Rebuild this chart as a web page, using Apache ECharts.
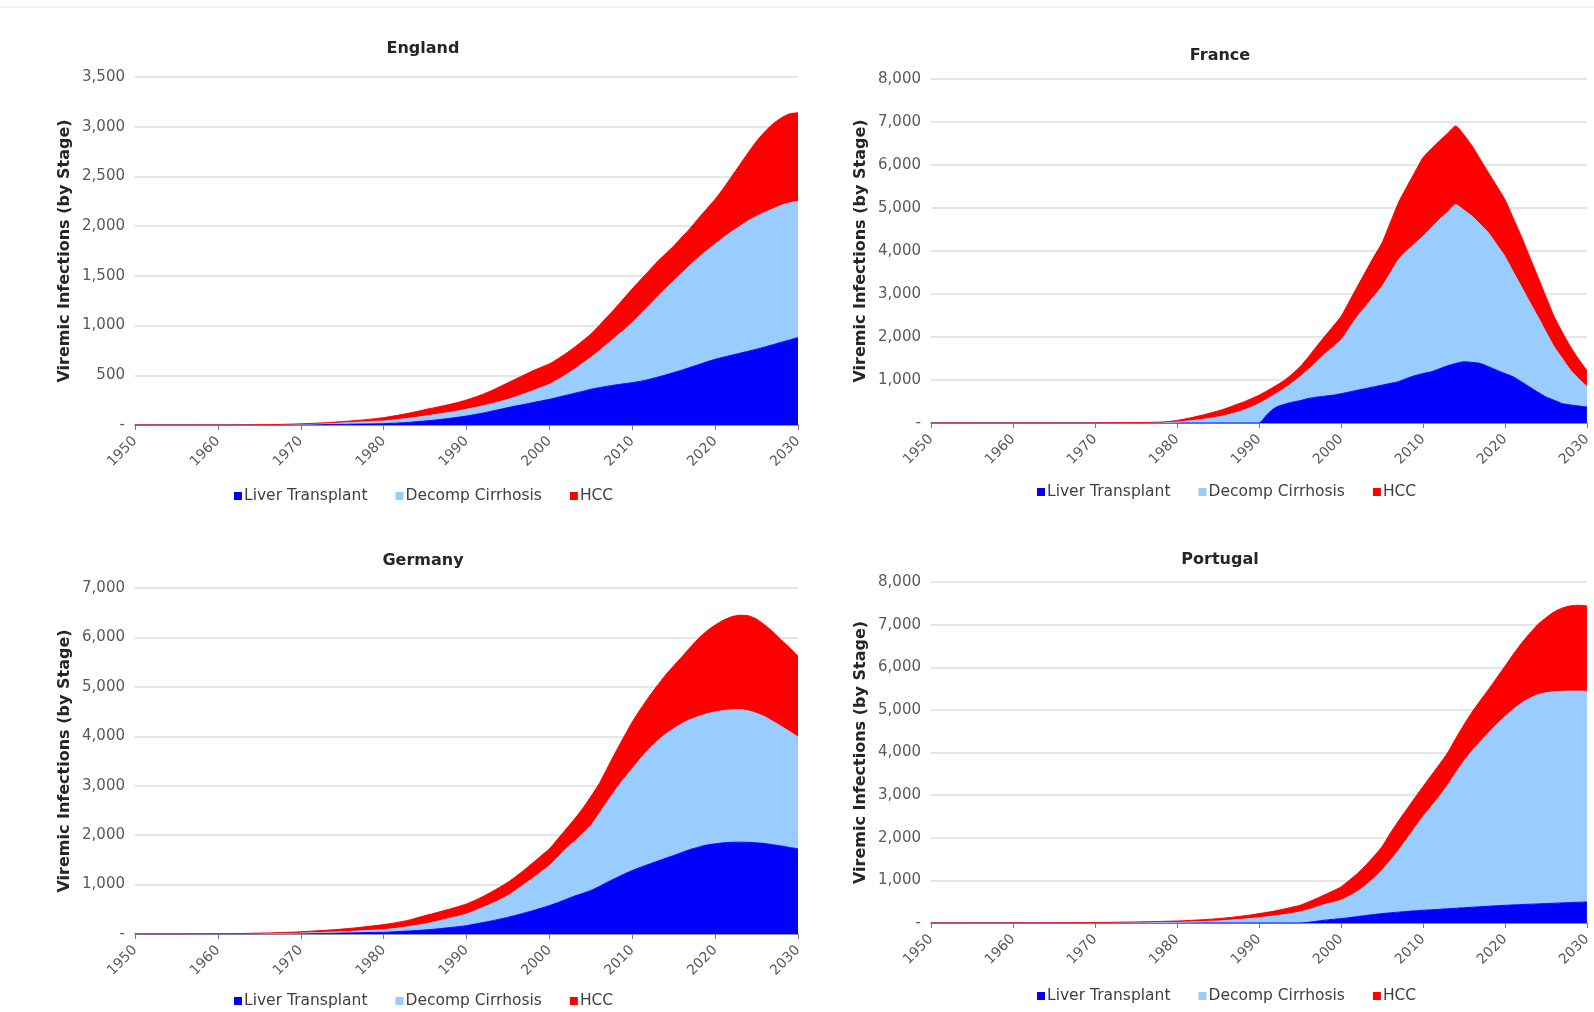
<!DOCTYPE html>
<html><head><meta charset="utf-8">
<script src="https://cdn.jsdelivr.net/npm/echarts@6/dist/echarts.min.js"></script>
<style>html,body{margin:0;padding:0;background:#fff;overflow:hidden}#c{width:1594px;height:1012px}</style>
</head><body><div id="c"></div><script>
// ---- categories / labels ----
const years = [];
for (let y = 1950; y <= 2030; y++) years.push(String(y));
const seriesNames = ['Liver Transplant', 'Decomp Cirrhosis', 'HCC'];
const panelTitles = ['England', 'France', 'Germany', 'Portugal'];
const yAxisTitle = 'Viremic Infections (by Stage)';
const yMax = [3500, 8000, 7000, 8000];
const yStep = [500, 1000, 1000, 1000];

// ---- data (1950..2030, one value per year) ----
const englandLT = [
  0,0,0,0,0,0,0,0,0,0,
  0,0,0,0,0,0,0,1,1,2,
  3,3,4,5,6,7,8,9,10,12,
  13,17,21,26,33,40,48,57,67,78,
  90,105,120,138,156,175,192,208,225,242,
  258,278,298,318,338,359,375,390,403,415,
  426,440,458,480,503,527,552,580,607,635,
  661,682,702,722,742,762,785,808,832,856,
  879];
const englandDC = [
  0,0,0,0,0,0,0,0,0,0,
  0,0,0,0,0,2,3,3,4,4,
  5,7,8,10,12,14,17,20,23,25,
  27,31,36,41,45,50,54,58,61,64,
  68,70,73,75,79,83,93,107,120,135,
  151,177,207,242,282,321,370,425,482,540,
  604,675,742,805,867,923,978,1030,1078,1120,
  1159,1203,1243,1278,1313,1338,1355,1367,1378,1379,
  1371];
const englandHCC = [
  0,0,0,0,0,0,0,0,0,0,
  0,0,1,1,1,1,1,1,2,3,
  4,5,7,8,10,13,15,18,22,27,
  34,40,45,51,57,65,70,75,80,86,
  94,105,117,132,150,167,180,190,200,203,
  206,210,215,220,225,235,255,275,295,320,
  340,345,350,355,350,350,360,370,395,420,
  450,495,555,620,685,755,810,855,880,895,
  890];

const franceLT = [
  0,0,0,0,0,0,0,0,0,0,
  0,0,0,0,0,0,0,0,0,0,
  0,0,0,0,0,0,0,0,0,0,
  0,0,0,0,0,0,0,0,0,0,
  0,200,360,430,480,520,568,600,625,646,
  680,720,762,800,840,880,920,960,1035,1100,
  1150,1190,1260,1330,1385,1424,1410,1385,1310,1229,
  1150,1074,960,840,720,607,530,451,420,395,
  375];
const franceDC = [
  0,0,0,0,0,0,0,0,0,0,
  0,0,0,0,0,0,0,0,0,0,
  1,1,2,2,3,4,5,7,9,14,
  23,40,60,80,108,140,180,230,290,365,
  451,360,310,360,445,554,672,820,975,1114,
  1249,1480,1712,1910,2100,2294,2560,2837,2965,3070,
  3191,3350,3470,3570,3695,3526,3398,3235,3109,2921,
  2724,2446,2214,1980,1754,1513,1244,1049,809,635,
  475];
const franceHCC = [
  0,0,0,0,0,0,0,0,0,0,
  0,0,0,0,0,0,0,0,0,0,
  1,2,2,3,4,5,7,9,13,21,
  37,55,75,100,120,140,160,180,190,195,
  195,190,190,190,205,233,290,354,410,480,
  545,620,700,810,920,1012,1170,1322,1480,1660,
  1829,1830,1828,1840,1828,1750,1634,1510,1400,1360,
  1323,1250,1167,1050,934,820,700,610,545,450,
  370];

const germanyLT = [
  0,0,0,0,0,0,0,0,0,0,
  1,1,1,2,2,3,4,5,6,7,
  8,10,12,14,17,20,23,26,29,31,
  34,42,51,60,70,81,96,112,130,148,
  169,200,232,265,300,338,380,425,472,522,
  574,635,700,765,820,880,960,1047,1130,1210,
  1284,1350,1410,1470,1530,1588,1650,1710,1757,1800,
  1824,1845,1855,1858,1855,1845,1830,1804,1780,1750,
  1723];
const germanyDC = [
  0,0,0,0,0,1,1,1,1,2,
  1,2,3,3,4,5,6,7,8,10,
  12,15,17,20,23,26,30,34,40,47,
  54,63,74,90,105,122,144,168,190,212,
  236,270,308,345,390,439,510,585,658,733,
  811,915,1023,1105,1210,1316,1470,1633,1790,1930,
  2061,2200,2330,2430,2510,2567,2610,2630,2643,2655,
  2669,2675,2683,2683,2660,2620,2565,2496,2420,2345,
  2264];
const germanyHCC = [
  0,0,1,1,1,1,1,2,2,2,
  3,4,5,6,8,10,12,15,18,21,
  25,30,36,41,48,54,62,72,81,92,
  102,110,120,130,150,169,175,180,185,195,
  203,210,220,240,255,270,280,290,310,325,
  338,370,397,450,504,584,610,680,762,850,
  945,1000,1057,1120,1196,1270,1348,1460,1580,1675,
  1757,1830,1881,1909,1925,1905,1855,1810,1746,1695,
  1633];

const portugalLT = [
  0,0,0,0,0,0,0,0,0,0,
  0,0,0,0,0,0,0,0,0,0,
  0,0,0,0,0,0,0,0,0,0,
  0,0,0,0,0,0,0,0,0,0,
  0,0,0,0,0,0,15,40,65,85,
  102,125,150,175,198,220,238,255,270,285,
  298,310,322,334,346,358,370,382,393,404,
  415,424,432,440,448,456,464,472,480,487,
  494];
const portugalDC = [
  0,0,0,0,0,0,0,0,0,0,
  1,1,1,1,2,2,2,3,3,4,
  4,5,6,7,8,9,10,11,13,14,
  16,21,27,33,40,47,60,75,90,107,
  125,145,170,195,225,259,295,330,370,395,
  431,505,590,705,852,1019,1222,1445,1690,1945,
  2195,2420,2648,2896,3174,3442,3670,3878,4067,4256,
  4430,4586,4727,4830,4907,4944,4961,4963,4960,4953,
  4941];
const portugalHCC = [
  0,0,0,0,0,1,1,1,1,2,
  1,2,2,3,2,3,4,4,6,6,
  8,9,10,12,14,16,19,22,24,28,
  31,34,38,42,48,55,60,65,75,83,
  95,105,115,130,145,156,180,202,225,270,
  314,370,420,470,510,549,640,690,700,705,
  706,730,750,760,810,850,910,960,1020,1090,
  1176,1290,1401,1520,1645,1760,1875,1955,2000,2015,
  2005];

const panelData = [
  [englandLT, englandDC, englandHCC],
  [franceLT, franceDC, franceHCC],
  [germanyLT, germanyDC, germanyHCC],
  [portugalLT, portugalDC, portugalHCC]
];

// ---- layout / style ----
const colors = ['#0000ff', '#99ccff', '#ff0000'];
const FONT = 'DejaVu Sans';
const grids = [
  {left: 135, top: 77, width: 663, height: 348},
  {left: 931, top: 79, width: 664, height: 344},
  {left: 135, top: 588, width: 663, height: 346},
  {left: 931, top: 582, width: 664, height: 341}
];
const titlePos = [[423, 41], [1220, 48], [423, 553], [1220, 552]];
const legendPos = [[234, 488], [1037, 484], [234, 993], [1037, 988]];

function fmt(v) {
  if (v === 0) return '-';
  return v.toLocaleString('en-US');
}

const option = {
  backgroundColor: '#fff',
  animation: false,
  title: panelTitles.map((t, i) => ({
    text: t, left: titlePos[i][0], top: titlePos[i][1], textAlign: 'center', padding: 0,
    textStyle: {fontFamily: FONT, fontSize: 16, fontWeight: 'bold', color: '#262626'}
  })),
  legend: panelTitles.map((t, i) => ({
    data: seriesNames, left: legendPos[i][0], top: legendPos[i][1], padding: 0,
    icon: 'rect', itemWidth: 8, itemHeight: 8, itemGap: 28, selectedMode: false,
    textStyle: {fontFamily: FONT, fontSize: 15.5, color: '#404040', padding: [0, 0, 0, -3]}
  })),
  grid: grids,
  xAxis: grids.map((g, i) => ({
    type: 'category', gridIndex: i, data: years, boundaryGap: false,
    axisLine: {lineStyle: {color: '#7a7a7a', width: 1.5}},
    axisTick: {interval: 9, length: 5, lineStyle: {color: '#7a7a7a'}},
    axisLabel: {interval: 9, rotate: 45, margin: 14, fontFamily: FONT, fontSize: 14, color: '#595959'}
  })),
  yAxis: grids.map((g, i) => ({
    type: 'value', gridIndex: i, min: 0, max: yMax[i], interval: yStep[i],
    name: yAxisTitle, nameLocation: 'middle', nameGap: 62,
    nameTextStyle: {fontFamily: FONT, fontSize: 16, fontWeight: 'bold', color: '#262626'},
    axisLine: {show: false}, axisTick: {show: false},
    axisLabel: {formatter: fmt, fontFamily: FONT, fontSize: 15, color: '#595959', margin: 10},
    splitLine: {lineStyle: {color: '#dcdcdc', width: 1.5}}
  })),
  graphic: [{type: 'line', shape: {x1: 0, y1: 7, x2: 1594, y2: 7}, style: {stroke: '#e6e6e6', lineWidth: 1}}],
  series: []
};

panelData.forEach((arrs, i) => {
  arrs.forEach((vals, k) => {
    option.series.push({
      name: seriesNames[k], type: 'line', xAxisIndex: i, yAxisIndex: i, stack: 'p' + i,
      data: vals, symbol: 'none', smooth: 0.2,
      itemStyle: {color: colors[k]},
      lineStyle: {width: 1, color: colors[k]},
      areaStyle: {color: colors[k], opacity: 1}
    });
  });
});

const chart = echarts.init(document.getElementById('c'), null, {renderer: 'canvas'});
chart.setOption(option);
</script></body></html>
